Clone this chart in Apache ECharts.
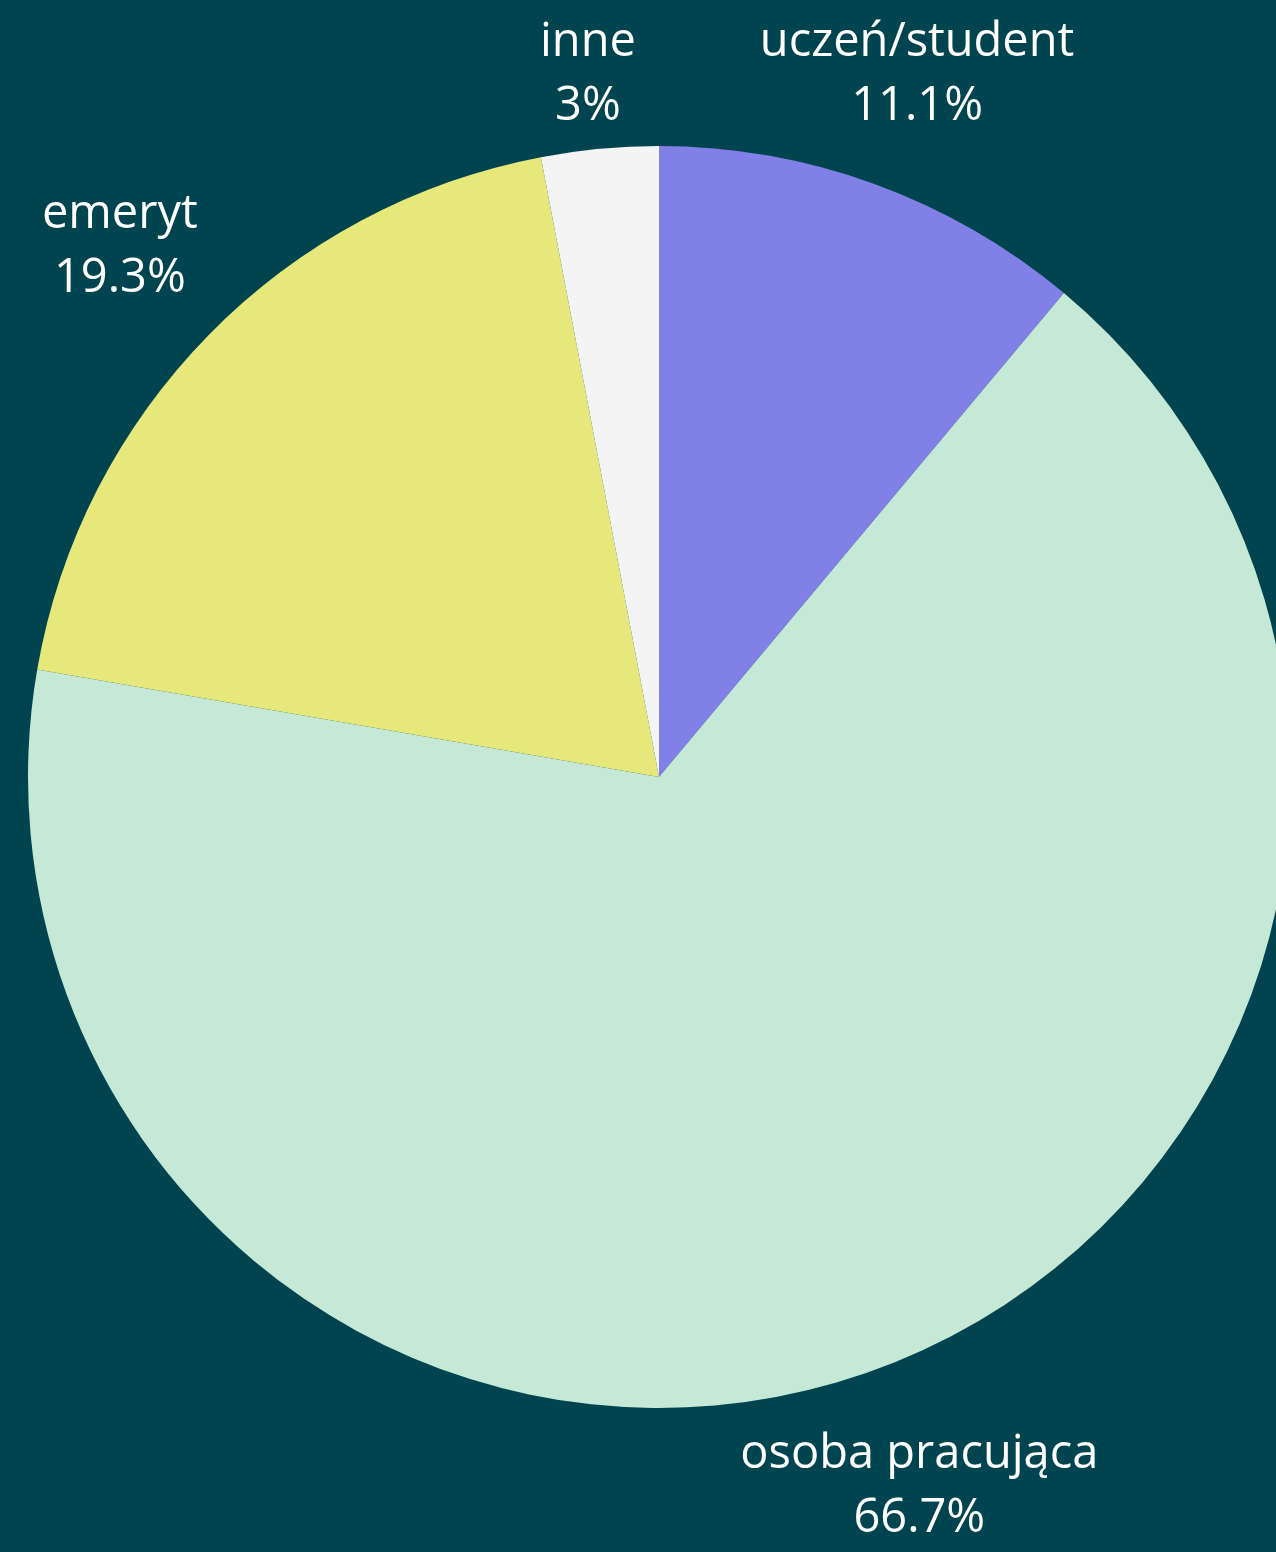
<!DOCTYPE html>
<html>
<head>
<meta charset="utf-8">
<script src="https://cdn.jsdelivr.net/npm/echarts@6/dist/echarts.min.js"></script>
<style>
html,body{margin:0;padding:0;background:#00444f;}
#chart{width:1276px;height:1552px;}
</style>
</head>
<body>
<div id="chart"></div>
<script>
const categories = ['uczeń/student', 'osoba pracująca', 'emeryt', 'inne'];
const values = [11.1, 66.7, 19.3, 3];
const colors = ['#8080e6', '#c5e9d6', '#e6e87c', '#f4f4f4'];

const CX = 659, CY = 777, R = 631, LABEL_R = 756, MIN_LABEL_Y = 75;
const total = values.reduce((a, b) => a + b, 0);
const mids = [];
let acc = 0;
values.forEach(v => { mids.push((acc + v / 2) / total); acc += v; });

const chart = echarts.init(document.getElementById('chart'));
chart.setOption({
  backgroundColor: '#00444f',
  animation: false,
  series: [{
    type: 'pie',
    center: [CX, CY],
    radius: R,
    startAngle: 90,
    clockwise: true,
    avoidLabelOverlap: false,
    itemStyle: { borderWidth: 0 },
    label: {
      show: true,
      position: 'outside',
      formatter: p => p.name + '\n' + p.value + '%',
      color: '#ffffff',
      fontFamily: 'Open Sans',
      fontSize: 47,
      lineHeight: 64,
      align: 'center'
    },
    labelLine: { show: false },
    labelLayout: function (params) {
      const th = mids[params.dataIndex] * 2 * Math.PI;
      const x = CX + LABEL_R * Math.sin(th);
      let y = CY - LABEL_R * Math.cos(th);
      if (y < MIN_LABEL_Y) y = MIN_LABEL_Y;
      return { x: x, y: y, align: 'center', verticalAlign: 'middle' };
    },
    emphasis: { disabled: true },
    data: categories.map((c, i) => ({ name: c, value: values[i], itemStyle: { color: colors[i] } }))
  }]
});
</script>
</body>
</html>
